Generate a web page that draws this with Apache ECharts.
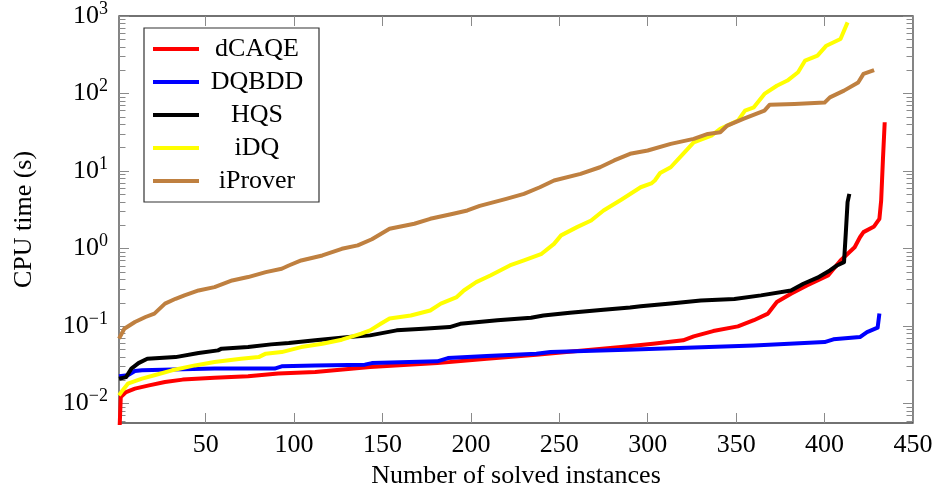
<!DOCTYPE html>
<html>
<head>
<meta charset="utf-8">
<script src="https://cdn.jsdelivr.net/npm/echarts@6/dist/echarts.min.js"></script>
<style>html,body{margin:0;padding:0;background:#fff}#c{width:936px;height:497px}</style>
</head>
<body>
<div id="c"></div>
<script>
const seriesNames = ['dCAQE', 'DQBDD', 'HQS', 'iDQ', 'iProver'];
const seriesColors = ['#ff0000', '#0000ff', '#000000', '#ffff00', '#bf8040'];

const dcaqeX = [1, 2, 5, 10, 18, 27, 37, 55, 74, 91, 112, 143, 181, 209, 237, 285, 303, 320, 326, 337, 351, 360, 368, 373, 381, 390, 402, 409, 417, 420, 422, 428, 431, 432, 433, 434];
const dcaqeY = [0.003, 0.0122, 0.0141, 0.0156, 0.0172, 0.0190, 0.0204, 0.0216, 0.0225, 0.0244, 0.0255, 0.0297, 0.0333, 0.0380, 0.0428, 0.0536, 0.0593, 0.0655, 0.0736, 0.0863, 0.0991, 0.119, 0.145, 0.204, 0.261, 0.335, 0.450, 0.703, 1.04, 1.40, 1.63, 1.93, 2.42, 4.17, 14.1, 42.6];

const dqbddX = [1, 6, 10, 14, 37, 55, 89, 93, 112, 140, 144, 181, 187, 209, 237, 245, 288, 322, 360, 400, 405, 420, 424, 430, 431];
const dqbddY = [0.0225, 0.0232, 0.0263, 0.0269, 0.0277, 0.0283, 0.0283, 0.0303, 0.0311, 0.0318, 0.0333, 0.0351, 0.0387, 0.0411, 0.0441, 0.0462, 0.0496, 0.0527, 0.0564, 0.0622, 0.0675, 0.0721, 0.0838, 0.0953, 0.145];

const hqsX = [1, 5, 8, 12, 17, 33, 34, 46, 57, 59, 74, 87, 97, 112, 131, 143, 158, 173, 188, 194, 215, 234, 241, 256, 275, 290, 296, 313, 330, 349, 364, 381, 388, 396, 403, 407, 411, 412, 413, 414];
const hqsY = [0.0209, 0.0220, 0.0283, 0.0333, 0.0380, 0.0398, 0.0419, 0.0449, 0.0486, 0.0512, 0.0536, 0.0581, 0.0604, 0.0655, 0.0721, 0.0759, 0.0881, 0.0925, 0.0971, 0.107, 0.119, 0.128, 0.137, 0.149, 0.163, 0.174, 0.180, 0.195, 0.214, 0.223, 0.249, 0.288, 0.352, 0.421, 0.522, 0.605, 0.668, 1.59, 3.98, 5.08];

const idqX = [1, 3, 6, 14, 21, 31, 44, 55, 70, 80, 84, 93, 104, 116, 127, 138, 143, 149, 154, 166, 177, 183, 192, 196, 203, 211, 222, 230, 240, 247, 251, 260, 268, 275, 285, 296, 302, 304, 307, 313, 320, 326, 336, 341, 351, 355, 360, 366, 373, 379, 385, 389, 396, 401, 409, 413];
const idqY = [0.0128, 0.0148, 0.0181, 0.0210, 0.0232, 0.0269, 0.0311, 0.0344, 0.0380, 0.0398, 0.0441, 0.0462, 0.0536, 0.0593, 0.0668, 0.0798, 0.0881, 0.107, 0.125, 0.137, 0.159, 0.195, 0.237, 0.288, 0.369, 0.450, 0.605, 0.703, 0.857, 1.15, 1.48, 1.89, 2.30, 3.10, 4.27, 6.18, 6.92, 7.55, 9.44, 11.2, 16.7, 23.5, 28.6, 35.0, 44.8, 60.3, 66.4, 98.9, 126, 147, 188, 266, 308, 414, 506, 828];

const iproverX = [1, 4, 10, 16, 21, 27, 33, 38, 46, 55, 65, 74, 84, 93, 97, 104, 116, 127, 136, 144, 154, 168, 177, 190, 198, 205, 220, 230, 239, 247, 262, 273, 281, 290, 300, 313, 326, 334, 341, 345, 354, 366, 369, 383, 400, 403, 411, 419, 422, 428];
const iproverY = [0.0689, 0.0925, 0.113, 0.131, 0.145, 0.195, 0.225, 0.249, 0.288, 0.318, 0.388, 0.429, 0.497, 0.550, 0.605, 0.703, 0.815, 0.993, 1.10, 1.32, 1.80, 2.09, 2.42, 2.81, 3.10, 3.55, 4.37, 5.08, 6.18, 7.55, 9.20, 11.2, 13.7, 16.7, 18.4, 22.4, 26.0, 30.1, 31.6, 38.6, 47.1, 60.3, 71.9, 73.5, 76.4, 89.3, 109, 139, 179, 201];

const xTicks = [50, 100, 150, 200, 250, 300, 350, 400, 450];
const yMajorTicks = [0.01, 0.1, 1, 10, 100, 1000];
const yMinorTicks = [0.006, 0.007, 0.008, 0.009, 0.02, 0.03, 0.04, 0.05, 0.06, 0.07, 0.08, 0.09,
  0.2, 0.3, 0.4, 0.5, 0.6, 0.7, 0.8, 0.9, 2, 3, 4, 5, 6, 7, 8, 9,
  20, 30, 40, 50, 60, 70, 80, 90, 200, 300, 400, 500, 600, 700, 800, 900];
const xTitle = 'Number of solved instances';
const yTitle = 'CPU time (s)';

const FONT = '"Liberation Serif", "Times New Roman", serif';
const X_MIN = 1, X_MAX = 450, Y_MIN = 0.0056234, Y_MAX = 1000;

function zip(xs, ys) { return xs.map((x, i) => [x, ys[i]]); }
const allData = [zip(dcaqeX, dcaqeY), zip(dqbddX, dqbddY), zip(hqsX, hqsY), zip(idqX, idqY), zip(iproverX, iproverY)];

const tickColor = '#8a8a8a';
function yAxisDef(pos, len, values, labels) {
  return {
    type: 'log', gridIndex: 0, position: pos, min: Y_MIN, max: Y_MAX, logBase: 10,
    axisLine: { show: false, onZero: false },
    splitLine: { show: false },
    axisTick: { show: true, inside: true, length: len, customValues: values, lineStyle: { color: tickColor, width: 1 } },
    axisLabel: labels ? {
      show: true, customValues: yMajorTicks, margin: 11,
      formatter: function (v) {
        const e = Math.round(Math.log10(v));
        return '{b|10}{e|' + (e < 0 ? '\u2212' + (-e) : String(e)) + '}';
      },
      rich: {
        b: { fontFamily: FONT, fontSize: 26, color: '#000' },
        e: { fontFamily: FONT, fontSize: 18, color: '#000', padding: [0, 0, 14, 0] }
      }
    } : { show: false },
    name: labels ? yTitle : '', nameLocation: 'middle', nameGap: 82,
    nameTextStyle: { fontFamily: FONT, fontSize: 26, color: '#000' }
  };
}

const chart = echarts.init(document.getElementById('c'), null, { renderer: 'canvas' });
chart.setOption({
  animation: false,
  backgroundColor: '#fff',
  grid: { left: 119, right: 23, top: 15, bottom: 74, show: true, borderColor: '#444', borderWidth: 1.3, backgroundColor: 'transparent' },
  legend: {
    data: seriesNames,
    orient: 'vertical',
    left: 144, top: 28,
    padding: [8, 9, 8, 9],
    itemGap: 7,
    itemWidth: 46, itemHeight: 4,
    itemTextGap: 5,
    icon: 'rect',
    backgroundColor: '#fff',
    borderColor: '#333', borderWidth: 1.2, borderRadius: 0,
    formatter: '{t|{name}}',
    textStyle: {
      rich: { t: { fontFamily: FONT, fontSize: 26, color: '#000', width: 106, align: 'center', lineHeight: 26 } }
    }
  },
  xAxis: [{
    type: 'value', gridIndex: 0, position: 'bottom', min: X_MIN, max: X_MAX,
    axisLine: { show: false, onZero: false }, splitLine: { show: false },
    axisTick: { show: true, inside: true, length: 10, customValues: xTicks, lineStyle: { color: tickColor } },
    axisLabel: { show: true, customValues: xTicks, margin: 9, fontFamily: FONT, fontSize: 26, color: '#000' },
    name: xTitle, nameLocation: 'middle', nameGap: 39,
    nameTextStyle: { fontFamily: FONT, fontSize: 26, color: '#000' }
  }, {
    type: 'value', gridIndex: 0, position: 'top', min: X_MIN, max: X_MAX,
    axisLine: { show: false, onZero: false }, splitLine: { show: false },
    axisTick: { show: true, inside: true, length: 10, customValues: xTicks, lineStyle: { color: tickColor } },
    axisLabel: { show: false }
  }],
  yAxis: [
    yAxisDef('left', 10, yMajorTicks, true),
    yAxisDef('left', 6.5, yMinorTicks, false),
    yAxisDef('right', 10, yMajorTicks, false),
    yAxisDef('right', 6.5, yMinorTicks, false)
  ],
  series: seriesNames.map((n, i) => ({
    name: n, type: 'line', data: allData[i], xAxisIndex: 0, yAxisIndex: 0,
    showSymbol: false, symbol: 'none', clip: true,
    color: seriesColors[i],
    lineStyle: { color: seriesColors[i], width: 4, join: 'round' }
  }))
});
</script>
</body>
</html>
